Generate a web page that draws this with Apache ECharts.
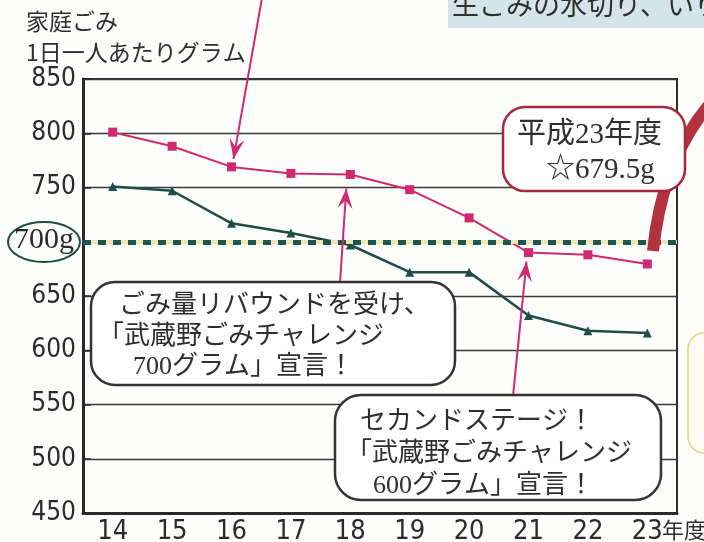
<!DOCTYPE html>
<html>
<head>
<meta charset="utf-8">
<script src="https://cdn.jsdelivr.net/npm/echarts@6/dist/echarts.min.js"></script>
<style>
html, body { margin: 0; padding: 0; background: #fdfdfb; }
#chart { width: 704px; height: 542px; }
</style>
</head>
<body>
<div id="chart"></div>
<script>
// 年度 (平成)
const years = ['14', '15', '16', '17', '18', '19', '20', '21', '22', '23'];
// 家庭ごみ 1日一人あたりグラム
const pinkValues = [801, 788, 769, 763, 762, 748, 722, 690, 688, 679.5];
const greenValues = [751, 747, 717, 708, 697, 672, 672, 632, 618, 616];
const yMin = 450;
const yMax = 850;
const yStep = 50;
const targetValue = 700;

const serif = "'Liberation Serif', 'Noto Sans CJK JP', serif";
const sans = "'Noto Sans CJK JP', sans-serif";
const narrow = "'Liberation Sans Narrow', 'DejaVu Sans Condensed', sans-serif";
const pink = '#d1296f';
const green = '#1f4d49';

const chart = echarts.init(document.getElementById('chart'));

// grid lines: hide the one under the 700 dashed line
const splitColors = [];
for (let v = yMin; v <= yMax; v += yStep) {
  splitColors.push(v === targetValue ? 'rgba(0,0,0,0)' : '#3a3a3a');
}

chart.setOption({
  backgroundColor: '#fdfdfb',
  animation: false,
  grid: {
    left: 83, right: 27, top: 79, bottom: 29,
    outerBoundsMode: 'none',
    show: true,
    borderColor: '#2e2e2e',
    borderWidth: 2
  },
  xAxis: {
    type: 'category',
    data: years,
    boundaryGap: true,
    axisLine: { lineStyle: { color: '#2a2a2a', width: 3 } },
    axisTick: { inside: true, length: 9, lineStyle: { color: '#2a2a2a', width: 2 } },
    axisLabel: { color: '#2b2b2b', fontSize: 27, fontFamily: narrow, margin: 5 }
  },
  yAxis: {
    type: 'value',
    min: yMin,
    max: yMax,
    interval: yStep,
    axisLine: { show: true, lineStyle: { color: '#2a2a2a', width: 3 } },
    axisTick: { show: true, inside: true, length: 8, lineStyle: { color: '#2a2a2a', width: 1.5 } },
    axisLabel: {
      color: '#2b2b2b', fontSize: 26, fontFamily: narrow, margin: 7,
      formatter: v => (v === targetValue ? '' : String(v))
    },
    splitLine: { lineStyle: { color: splitColors, width: 1.3 } }
  },
  series: [
    {
      name: 'pink',
      type: 'line',
      data: pinkValues,
      symbol: 'rect',
      symbolSize: 9,
      itemStyle: { color: pink },
      lineStyle: { color: pink, width: 2 },
      z: 3,
      markLine: {
        silent: true,
        symbol: 'none',
        label: { show: false },
        data: [
          { yAxis: targetValue, lineStyle: { color: '#ebe6b4', width: 4, type: 'solid' } },
          { yAxis: targetValue, lineStyle: { color: '#1d5552', width: 5, type: [8, 7] } }
        ]
      }
    },
    {
      name: 'green',
      type: 'line',
      data: greenValues,
      symbol: 'triangle',
      symbolSize: 9,
      itemStyle: { color: green },
      lineStyle: { color: green, width: 2.5 },
      z: 3
    }
  ]
});

function arrowHead(from, tip, len, wid) {
  const dx = tip[0] - from[0], dy = tip[1] - from[1];
  const d = Math.sqrt(dx * dx + dy * dy);
  const ux = dx / d, uy = dy / d;
  const nx = -uy, ny = ux;
  return [
    tip,
    [tip[0] - ux * len + nx * wid / 2, tip[1] - uy * len + ny * wid / 2],
    [tip[0] - ux * len * 0.6, tip[1] - uy * len * 0.6],
    [tip[0] - ux * len - nx * wid / 2, tip[1] - uy * len - ny * wid / 2]
  ];
}

function arrow(from, tip) {
  return [
    { type: 'line', z: 50, shape: { x1: from[0], y1: from[1], x2: tip[0], y2: tip[1] },
      style: { stroke: pink, lineWidth: 2 } },
    { type: 'polygon', z: 50, shape: { points: arrowHead(from, tip, 20, 15) },
      style: { fill: pink } }
  ];
}

function textLine(str, x, y, size, family) {
  return {
    type: 'text', z: 120, x: x, y: y,
    style: { text: str, font: size + 'px ' + family, fill: '#2f2f2f', textVerticalAlign: 'middle' }
  };
}

// arrow tips anchored on the pink points (16, 18, 21)
const p16 = chart.convertToPixel({ seriesIndex: 0 }, [2, pinkValues[2]]);
const p18 = chart.convertToPixel({ seriesIndex: 0 }, [4, pinkValues[4]]);
const p21 = chart.convertToPixel({ seriesIndex: 0 }, [7, pinkValues[7]]);

chart.setOption({
  graphic: [
    // top-right banner (cut off)
    { type: 'rect', z: 10, shape: { x: 448, y: -10, width: 270, height: 38 }, style: { fill: '#d3e5ea' } },
    textLine('生ごみの水切り、いり', 452, 5, 27, sans),
    // title
    textLine('家庭ごみ', 26, 21, 23, sans),
    textLine('1日一人あたりグラム', 26, 52, 23, sans),
    // 700g mark
    { type: 'ellipse', z: 60, shape: { cx: 44, cy: 242, rx: 36, ry: 20 },
      style: { fill: '#fdfdfb', stroke: '#1f4d49', lineWidth: 2 } },
    { type: 'text', z: 61, x: 44, y: 240,
      style: { text: '700g', font: '30px ' + serif, fill: '#2b2b2b', textAlign: 'center', textVerticalAlign: 'middle' } },
    // 年度
    textLine('年度', 662, 530, 22, sans),
    // arrows
    ...arrow([262, -2], [p16[0] + 2, p16[1] - 8]),
    ...arrow([340, 283], [p18[0] - 4, p18[1] + 14]),
    ...arrow([513, 396], [p21[0] - 2, p21[1] + 9]),
    // big dark red curve on the right
    { type: 'bezierCurve', z: 40,
      shape: { x1: 653, y1: 251, x2: 708, y2: 106, cpx1: 662, cpy1: 162 },
      style: { stroke: '#b2323f', lineWidth: 12, fill: null } },
    // yellow box at right edge
    { type: 'rect', z: 30, shape: { x: 688, y: 333, width: 40, height: 120, r: 16 },
      style: { fill: '#fefcf2', stroke: '#e3d27c', lineWidth: 1.5 } },
    // callout: 平成23年度
    { type: 'rect', z: 100, shape: { x: 503, y: 107, width: 182, height: 84, r: 22 },
      style: { fill: '#fefefe', stroke: '#a62a3b', lineWidth: 2.5 } },
    textLine('平成23年度', 517, 135, 29, serif),
    textLine('☆679.5g', 546, 170, 29, serif),
    // callout: 700グラム宣言
    { type: 'rect', z: 100, shape: { x: 91, y: 282, width: 364, height: 103, r: 24 },
      style: { fill: '#fefefe', stroke: '#333', lineWidth: 2.5 } },
    textLine('ごみ量リバウンドを受け、', 119, 306, 26, serif),
    textLine('「武蔵野ごみチャレンジ', 98, 337, 26, serif),
    textLine('700グラム」宣言！', 133, 367, 26, serif),
    // callout: 600グラム宣言
    { type: 'rect', z: 100, shape: { x: 335, y: 395, width: 326, height: 105, r: 26 },
      style: { fill: '#fefefe', stroke: '#333', lineWidth: 2.5 } },
    textLine('セカンドステージ！', 360, 422, 26, serif),
    textLine('「武蔵野ごみチャレンジ', 346, 454, 26, serif),
    textLine('600グラム」宣言！', 373, 486, 26, serif)
  ]
});
</script>
</body>
</html>
